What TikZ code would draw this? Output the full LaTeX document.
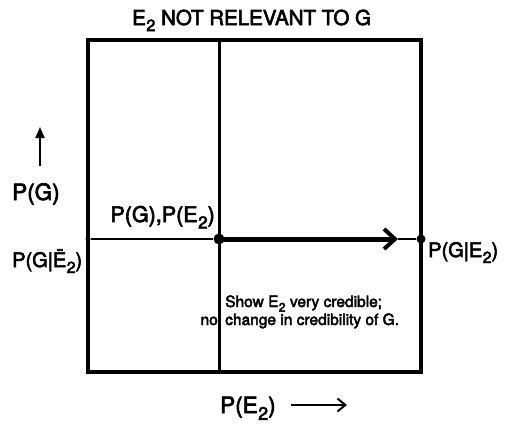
\documentclass[tikz,border=0pt]{standalone}
\usepackage{fontspec}
\usepackage{graphicx}
\setmainfont[FakeBold=3]{TeX Gyre Heros}
\usetikzlibrary{arrows.meta}
% large, lowered subscript two
\newcommand{\sbtwo}{\kern0.02em\raisebox{-0.3em}{\scalebox{0.8}{2}}}
\tikzset{
  frame/.style={line width=3.5pt},
  divider/.style={line width=3pt},
  level/.style={line width=2.5pt},
  movearrow/.style={line width=5pt, -{Straight Barb[length=11pt,width=20pt,line width=4pt]}},
  uparrow/.style={line width=2pt, -{Triangle[length=11pt,width=9pt]}},
  axisarrow/.style={line width=2pt, -{Straight Barb[length=8pt,width=13pt,line width=2pt]}},
  txt/.style={inner sep=0pt, anchor=base west, font=\fontsize{#1}{#1}\selectfont},
  note/.style={inner sep=0pt, font=\fontsize{15.5}{16}\selectfont},
  dot/.style={circle, fill=black, inner sep=0pt},
}
\begin{document}
\begin{tikzpicture}[x=1pt,y=-1pt]
\useasboundingbox (0,0) rectangle (511,423);
% outer square
\coordinate (tl) at (88,40);
\coordinate (br) at (421,372);
\draw[frame] (tl) rectangle (br);
% vertical divider at the prior P(E2)
\coordinate (dtop) at (219,40);
\coordinate (dbot) at (219,372);
\draw[divider] (dtop) -- (dbot);
% horizontal level of P(G)
\node[dot, minimum size=5pt] (left) at (88,239) {};
\node[dot, minimum size=11pt] (prior) at (219,239) {};
\node[dot, minimum size=9pt] (right) at (421,239) {};
\coordinate (tip) at (398,239);
\draw[level] (left) -- (prior);
\draw[level] (tip) -- (right);
\draw[movearrow] (prior.center) -- (tip);
% title and axis labels
\node[txt=20.5] (title) at (132,25) {E\sbtwo\ NOT RELEVANT TO G};
\node[txt=22.5] (pg) at (12,200) {P(G)};
\coordinate (upb) at (40,166);
\coordinate (upt) at (40,127);
\draw[uparrow] (upb) -- (upt);
\node[txt=21.5, anchor=base east] (pgpe) at (215,222) {P(G),P(E\sbtwo)};
\node[txt=20] (pgnot) at (12,267) {P(G|\={E}\sbtwo)};
\node[txt=20] (pge) at (428,257) {P(G|E\sbtwo)};
\node[txt=22.5] (pe) at (220,413) {P(E\sbtwo)};
\coordinate (ra) at (291,405);
\coordinate (rb) at (347,405);
\draw[axisarrow] (ra) -- (rb);
% note in the lower right cell
\node[note, anchor=base west] (n1) at (225,307) {Show E\sbtwo\ very credible;};
\node[note, anchor=base west] (n2) at (225,325) {change in credibility of G.};
\node[note, anchor=base east] (n0) at (218,325) {no};
\end{tikzpicture}
\end{document}
